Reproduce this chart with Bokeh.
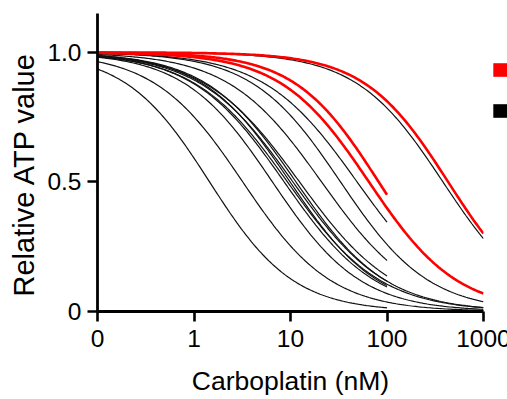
import numpy as np
from bokeh.plotting import figure
from bokeh.models import Range1d, FixedTicker, Legend, LegendItem, Title
from bokeh.core.properties import value
from bokeh.embed import file_html
from bokeh.resources import INLINE

# Fitted dose-response curves (Hill model): IC50 (nM), Hill slope, highest dose tested (nM)
black_ic50 = [1.45, 3.2, 6.5, 8.6, 9.3, 9.9, 10.6, 11.4, 12.4, 21, 33, 49, 380]
black_hill = [1.0, 0.95, 0.95, 0.92, 0.90, 0.95, 0.90, 0.93, 0.88, 0.90, 0.95, 0.90, 0.97]
black_end = [100, 1000, 1000, 100, 1000, 100, 100, 1000, 100, 100, 1000, 100, 1000]

red_ic50 = [65, 82, 430]
red_hill = [0.95, 1.0, 1.0]
red_end = [1000, 100, 1000]

lowest_dose = 0.1  # plotted at the "0" tick
x_ticks = [0.1, 1, 10, 100, 1000]
x_tick_labels = ["0", "1", "10", "100", "1000"]
y_ticks = [0, 0.5, 1.0]
y_tick_labels = ["0", "0.5", "1.0"]

FONT = "Liberation Sans"

p = figure(frame_width=386, frame_height=298, x_axis_type="log",
           x_range=Range1d(0.1, 1000), y_range=Range1d(0, 1.15),
           output_backend="svg", toolbar_location=None,
           min_border_left=97, min_border_right=24, min_border_top=13, min_border_bottom=80)
p.outline_line_color = None
p.xgrid.visible = False
p.ygrid.visible = False


def curve(ic50, hill, end):
    x = np.logspace(np.log10(lowest_dose), np.log10(end), 200)
    y = 1.0 / (1.0 + (x / ic50) ** hill)
    return x, y


for ic, h, e in zip(black_ic50, black_hill, black_end):
    x, y = curve(ic, h, e)
    p.line(x, y, line_color="#111111", line_width=1.2)

for ic, h, e in zip(red_ic50, red_hill, red_end):
    x, y = curve(ic, h, e)
    p.line(x, y, line_color="#ff0000", line_width=2.6)

# legend keys (their labels fall outside the visible page in the original);
# NaN rows keep the key renderers non-empty without drawing anything in the plot
nan = [float("nan")]
r_red = p.quad(left=nan, right=nan, top=nan, bottom=nan, fill_color="#ff0000", line_color=None)
r_blk = p.quad(left=nan, right=nan, top=nan, bottom=nan, fill_color="#000000", line_color=None)
legend = Legend(items=[LegendItem(label=value(" "), renderers=[r_red]),
                       LegendItem(label=value(" "), renderers=[r_blk])],
                location=(8, 192), padding=0, margin=0, spacing=24,
                glyph_width=18, glyph_height=17, label_height=17, label_width=0,
                label_standoff=0, border_line_color=None, background_fill_alpha=0,
                label_text_font_size="12px")
p.add_layout(legend, "right")

for ax in (p.xaxis[0], p.yaxis[0]):
    ax.axis_line_width = 2.8
    ax.major_tick_line_width = 2.6
    ax.major_tick_out = 10
    ax.major_tick_in = 0
    ax.minor_tick_out = 0
    ax.minor_tick_in = 0
    ax.major_label_text_font = FONT
    ax.major_label_text_font_size = "24.5px"
    ax.major_label_text_color = "#000000"
    ax.axis_label_text_font = FONT
    ax.axis_label_text_font_style = "normal"
    ax.axis_label_text_color = "#000000"

p.xaxis[0].ticker = FixedTicker(ticks=x_ticks)
p.xaxis[0].major_label_overrides = dict(zip(x_ticks, x_tick_labels))
p.xaxis[0].axis_label = "Carboplatin (nM)"
p.xaxis[0].axis_label_text_font_size = "26.5px"
p.xaxis[0].major_label_standoff = 8
p.xaxis[0].axis_label_standoff = 16

p.yaxis[0].ticker = FixedTicker(ticks=y_ticks)
p.yaxis[0].major_label_overrides = dict(zip(y_ticks, y_tick_labels))
p.yaxis[0].major_label_standoff = 6

ytitle = Title(text="Relative ATP value", align="left", offset=15, standoff=9,
               text_font=FONT, text_font_size="29px", text_font_style="normal",
               text_color="#000000")
p.add_layout(ytitle, "left")

open("out.html", "w").write(file_html(p, INLINE))
